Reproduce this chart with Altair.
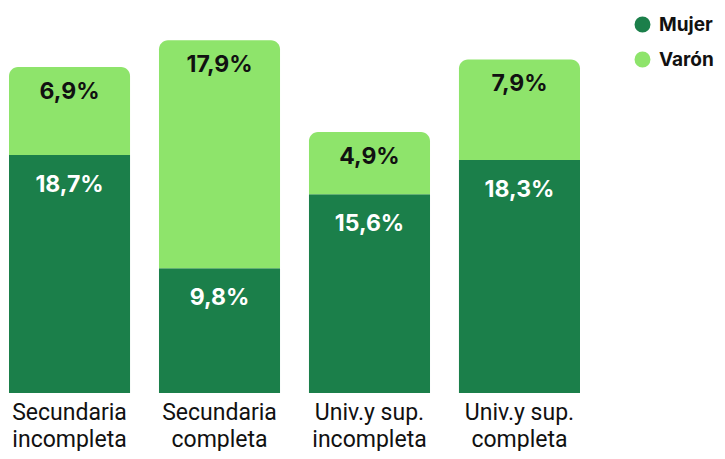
import altair as alt
import pandas as pd

categories = ["Secundaria incompleta", "Secundaria completa", "Univ.y sup. incompleta", "Univ.y sup. completa"]
mujer = [18.7, 9.8, 15.6, 18.3]
varon = [6.9, 17.9, 4.9, 7.9]
series = ["Mujer", "Varón"]
colors = ["#1b7f4a", "#8ee46b"]


def fmt(v):
    return f"{v:.1f}".replace(".", ",") + "%"


rows = []
for c, m, v in zip(categories, mujer, varon):
    rows.append(dict(cat=c, sexo="Mujer", value=m, start=0.0, end=m, label=fmt(m)))
    rows.append(dict(cat=c, sexo="Varón", value=v, start=m, end=m + v, label=fmt(v)))
df = pd.DataFrame(rows)

label_expr = ("[substring(datum.label, 0, lastindexof(datum.label, ' ')), "
              "substring(datum.label, lastindexof(datum.label, ' ') + 1)]")

x = alt.X("cat:N", sort=categories,
          scale=alt.Scale(paddingInner=0.193, paddingOuter=0),
          axis=alt.Axis(title=None, labelAngle=0, domain=False, ticks=False,
                        labelFont="Roboto", labelFontSize=23, labelColor="#111111",
                        labelPadding=8, labelBaseline="top", labelLineHeight=27,
                        labelExpr=label_expr))
y = alt.Y("end:Q", scale=alt.Scale(domain=[0, 30], nice=False, zero=True), axis=None)
y2 = alt.Y2("start:Q")
color = alt.Color("sexo:N", scale=alt.Scale(domain=series, range=colors),
                  legend=alt.Legend(title=None, orient="none", legendX=624, legendY=4,
                                    padding=0, symbolType="circle", symbolSize=254,
                                    symbolStrokeWidth=0, symbolOpacity=1,
                                    labelFont="Inter", labelFontWeight="bold",
                                    labelFontSize=19, labelColor="#111111",
                                    rowPadding=15, labelOffset=7))

base = alt.Chart(df)
bar_m = base.transform_filter(alt.datum.sexo == "Mujer").mark_bar().encode(x=x, y=y, y2=y2, color=color)
bar_v = base.transform_filter(alt.datum.sexo == "Varón").mark_bar(
    cornerRadiusTopLeft=9, cornerRadiusTopRight=9).encode(x=x, y=y, y2=y2, color=color)
txt_m = base.transform_filter(alt.datum.sexo == "Mujer").mark_text(
    font="Inter", fontWeight="bold", fontSize=23, color="white", dy=30, baseline="middle"
).encode(x=x, y=y, text="label:N")
txt_v = base.transform_filter(alt.datum.sexo == "Varón").mark_text(
    font="Inter", fontWeight="bold", fontSize=23, color="#111111", dy=25, baseline="middle"
).encode(x=x, y=y, text="label:N")

chart = alt.layer(bar_m, bar_v, txt_m, txt_v).properties(
    width=571, height=382,
    autosize=alt.AutoSizeParams(type="none"),
    padding={"left": 1, "top": 3, "right": 137, "bottom": 58},
).configure_view(stroke=None)

chart.save("out.html", embed_options={"renderer": "svg", "actions": False})
